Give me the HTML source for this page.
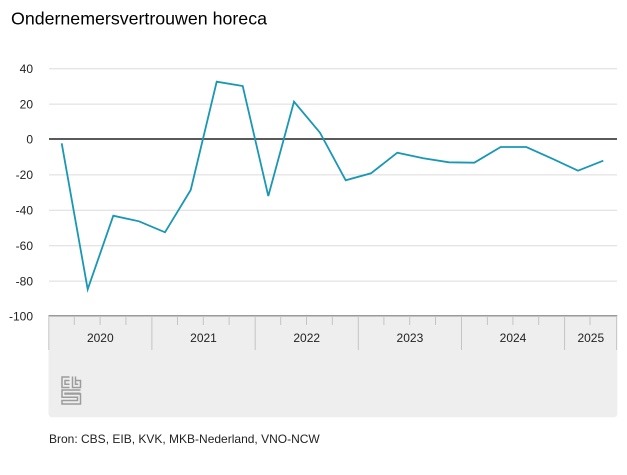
<!DOCTYPE html>
<html><head><meta charset="utf-8">
<style>
html,body{margin:0;padding:0;background:#fff;}
body{width:627px;height:470px;overflow:hidden;font-family:"Liberation Sans",Arial,sans-serif;}
</style></head>
<body>
<svg width="627" height="470" viewBox="0 0 627 470" xmlns="http://www.w3.org/2000/svg" font-family="Liberation Sans, Arial, sans-serif">
<text x="11" y="24.5" font-size="17.8" fill="#000">Ondernemersvertrouwen horeca</text>
<!-- gridlines -->
<g stroke="#dcdcdc" stroke-width="1">
<line x1="49" x2="617" y1="68.7" y2="68.7"/>
<line x1="49" x2="617" y1="104.1" y2="104.1"/>
<line x1="49" x2="617" y1="174.9" y2="174.9"/>
<line x1="49" x2="617" y1="210.3" y2="210.3"/>
<line x1="49" x2="617" y1="245.7" y2="245.7"/>
<line x1="49" x2="617" y1="281.1" y2="281.1"/>
</g>
<line x1="49" x2="617" y1="139" y2="139" stroke="#5a5a5a" stroke-width="2"/>
<!-- y labels -->
<g font-size="12" fill="#222" text-anchor="end">
<text x="33" y="73">40</text>
<text x="33" y="108.5">20</text>
<text x="33" y="143.5">0</text>
<text x="33" y="179">-20</text>
<text x="33" y="214.5">-40</text>
<text x="33" y="250">-60</text>
<text x="33" y="285.5">-80</text>
<text x="33" y="320.5">-100</text>
</g>
<!-- gray panel -->
<path d="M48.5 315.5 H617.3 V413.3 Q617.3 417.3 613.3 417.3 H52.5 Q48.5 417.3 48.5 413.3 Z" fill="#eeeeee"/>
<line x1="48.5" x2="617.3" y1="315.8" y2="315.8" stroke="#9a9a9a" stroke-width="1.5"/>
<g stroke="#c4c4c4" stroke-width="1">
<line x1="48.8" x2="48.8" y1="316" y2="350"/>
<line x1="151.9" x2="151.9" y1="316" y2="350"/>
<line x1="255.2" x2="255.2" y1="316" y2="350"/>
<line x1="358.3" x2="358.3" y1="316" y2="350"/>
<line x1="461.5" x2="461.5" y1="316" y2="350"/>
<line x1="564.6" x2="564.6" y1="316" y2="350"/>
<line x1="616.6" x2="616.6" y1="316" y2="350"/>
<line x1="74.3" x2="74.3" y1="316" y2="325"/>
<line x1="100.1" x2="100.1" y1="316" y2="325"/>
<line x1="125.9" x2="125.9" y1="316" y2="325"/>
<line x1="177.5" x2="177.5" y1="316" y2="325"/>
<line x1="203.3" x2="203.3" y1="316" y2="325"/>
<line x1="229.1" x2="229.1" y1="316" y2="325"/>
<line x1="280.7" x2="280.7" y1="316" y2="325"/>
<line x1="306.5" x2="306.5" y1="316" y2="325"/>
<line x1="332.3" x2="332.3" y1="316" y2="325"/>
<line x1="383.9" x2="383.9" y1="316" y2="325"/>
<line x1="409.7" x2="409.7" y1="316" y2="325"/>
<line x1="435.5" x2="435.5" y1="316" y2="325"/>
<line x1="487.4" x2="487.4" y1="316" y2="325"/>
<line x1="512.9" x2="512.9" y1="316" y2="325"/>
<line x1="538.7" x2="538.7" y1="316" y2="325"/>
<line x1="590" x2="590" y1="316" y2="325"/>
</g>
<g font-size="12" fill="#222" text-anchor="middle">
<text x="100.3" y="342">2020</text>
<text x="203.5" y="342">2021</text>
<text x="306.7" y="342">2022</text>
<text x="409.9" y="342">2023</text>
<text x="513" y="342">2024</text>
<text x="590.8" y="342">2025</text>
</g>
<!-- cbs logo -->
<g fill="none" stroke="#9c9c9c" stroke-width="1.5">
<path d="M69.5 377 H62 V387.5 H69.5 M69.5 380.5 H65 V384.2 H69.5"/>
<path d="M72.5 376.5 V387.5 H80.5 V380.5 H76 M75.5 376.5 V384.2 H77.5 V383.5"/>
<path d="M80.5 390 H62 V397.3 H77.5 V400.5 H62 V404 H80.5 V394 H65 V393.2 H80.5"/>
</g>
<!-- series -->
<polyline fill="none" stroke="#1a97b3" stroke-width="1.8" stroke-linejoin="miter" points="61.7,143.3 87.7,289.3 113.3,215.7 139,221.3 165,232.3 190.7,190 216.7,81.7 242.7,86 268.3,196 294,101.7 320,132.7 345.7,180.3 371,173.3 397.3,152.7 423.3,158.3 449,162.3 474.3,162.7 500.7,147 526.3,147 552.3,158.7 578,170.7 603.3,160.7"/>
<text x="49" y="443" font-size="12" fill="#222">Bron: CBS, EIB, KVK, MKB-Nederland, VNO-NCW</text>
</svg>
</body></html>
